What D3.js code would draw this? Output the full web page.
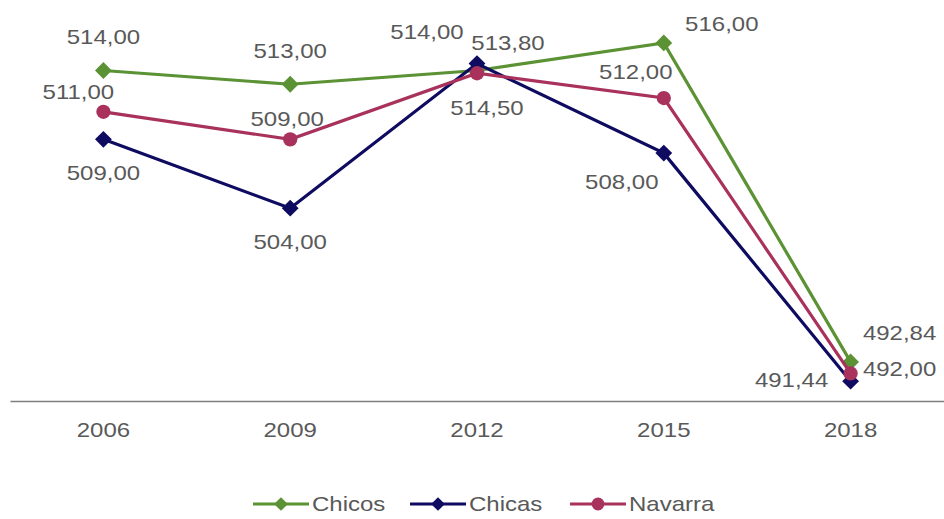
<!DOCTYPE html>
<meta charset="utf-8">
<style>
body { margin: 0; background: #fff; }
text { font-family: "Liberation Sans", Arial, sans-serif; fill: #595959; }
</style>
<body>
<svg id="chart" width="944" height="519"></svg>
<script src="https://cdn.jsdelivr.net/npm/d3@7"></script>
<script>
// data
var years = ["2006", "2009", "2012", "2015", "2018"];
var seriesNames = ["Chicos", "Chicas", "Navarra"];
var chicos = [514.00, 513.00, 514.00, 516.00, 492.84];
var chicas = [509.00, 504.00, 514.50, 508.00, 491.44];
var navarra = [511.00, 509.00, 513.80, 512.00, 492.00];

// label placement (dx, dy from the marker), hand tuned like in the original
var labelOffsets = {
  "Chicos":  [[0, -33], [0, -33], [-50, -38], [58, -19], [49, -29]],
  "Chicas":  [[0, 34], [0, 34], [10, 44], [-42, 29], [-59, -1]],
  "Navarra": [[-25, -20], [-3, -20], [31, -30], [-28, -26], [49, -4]]
};

var colors = {"Chicos": "#5b9234", "Chicas": "#0e0b60", "Navarra": "#a8325c"};
var stretch = 1.2; // text in the picture is drawn wide
var fontSize = 20;

var svg = d3.select("#chart"),
    width = +svg.attr("width"),
    height = +svg.attr("height");

var x = d3.scaleBand().domain(years).range([10, 944]).padding(0);
var y = d3.scaleLinear().domain([490, 518]).range([401, 15.4]);

var series = [
  {name: "Chicos", values: chicos, symbol: d3.symbolDiamond2},
  {name: "Chicas", values: chicas, symbol: d3.symbolDiamond2},
  {name: "Navarra", values: navarra, symbol: d3.symbolCircle}
];

function cx(i) { return x(years[i]) + x.bandwidth() / 2; }

// x axis
var axis = svg.append("g")
    .attr("transform", "translate(0,401)")
    .call(d3.axisBottom(x).tickSize(0).tickSizeOuter(0).tickPadding(22));
axis.select(".domain").attr("stroke", "#7f7f7f").attr("stroke-width", 1.4);
axis.selectAll("text")
    .attr("font-size", fontSize)
    .attr("fill", "#595959")
    .attr("font-family", "Liberation Sans, Arial, sans-serif")
    .attr("transform", "scale(" + stretch + ",1)");

var line = d3.line()
    .x(function(d, i) { return cx(i); })
    .y(function(d) { return y(d); });

var g = svg.selectAll(".series")
  .data(series)
  .enter().append("g")
    .attr("class", "series");

g.append("path")
    .attr("d", function(d) { return line(d.values); })
    .attr("fill", "none")
    .attr("stroke", function(d) { return colors[d.name]; })
    .attr("stroke-width", 3.2);

g.each(function(s) {
  var sym = d3.symbol().type(s.symbol).size(s.name == "Navarra" ? 160 : 180);
  d3.select(this).selectAll(".mark")
    .data(s.values)
    .enter().append("path")
      .attr("class", "mark")
      .attr("d", sym)
      .attr("transform", function(d, i) { return "translate(" + cx(i) + "," + y(d) + ")"; })
      .attr("fill", colors[s.name]);
});

// data labels
series.forEach(function(s) {
  s.values.forEach(function(v, i) {
    var off = labelOffsets[s.name][i];
    svg.append("g")
        .attr("transform", "translate(" + (cx(i) + off[0]) + "," + (y(v) + off[1]) + ") scale(" + stretch + ",1)")
      .append("text")
        .attr("text-anchor", "middle")
        .attr("dy", "0.35em")
        .attr("font-size", fontSize)
        .text(d3.format(".2f")(v).replace(".", ","));
  });
});

// legend
var legendX = [253, 410, 570];
var legend = svg.selectAll(".legend")
  .data(series)
  .enter().append("g")
    .attr("class", "legend")
    .attr("transform", function(d, i) { return "translate(" + legendX[i] + ",504)"; });

legend.append("line")
    .attr("x1", 0).attr("x2", 56)
    .attr("stroke", function(d) { return colors[d.name]; })
    .attr("stroke-width", 3);

legend.append("path")
    .attr("d", function(d) { return d3.symbol().type(d.symbol).size(d.name == "Navarra" ? 130 : 120)(); })
    .attr("transform", "translate(28,0)")
    .attr("fill", function(d) { return colors[d.name]; });

legend.append("g")
    .attr("transform", "translate(59,0) scale(" + stretch + ",1)")
  .append("text")
    .attr("dy", "0.35em")
    .attr("font-size", fontSize)
    .text(function(d) { return d.name; });
</script>
</body>
